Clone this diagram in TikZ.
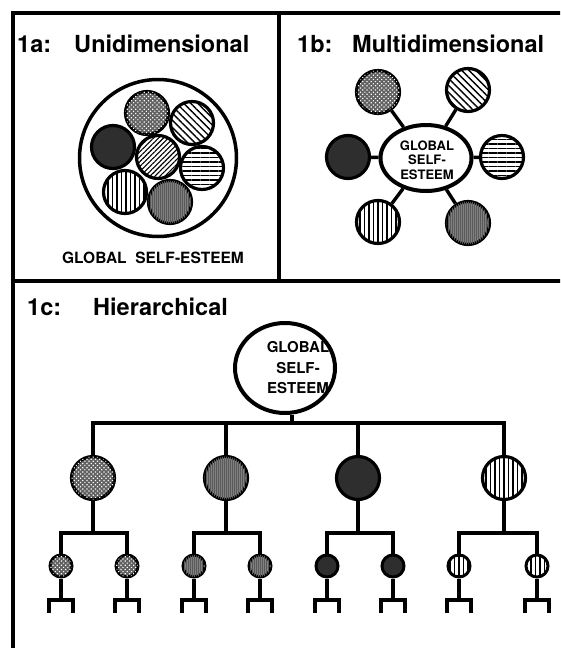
\documentclass[tikz,border=0pt]{standalone}
\usepackage{fontspec}
\setmainfont{TeX Gyre Heros}
\usetikzlibrary{shapes.geometric, patterns.meta}
\tikzset{
  every node/.style={inner sep=0pt},
  frame/.style={line width=4pt},
  link/.style={line width=3.4pt},
  title/.style={font=\fontsize{23.5}{28}\selectfont\bfseries, anchor=base west},
  blob/.style={circle, draw, line width=3.2pt, minimum size=43pt},
  leaf/.style={circle, draw, line width=3pt, minimum size=22pt},
  gse/.style={ellipse, draw, line width=4pt, fill=white},
  gtext/.style 2 args={font=\fontsize{#1}{#2}\selectfont\bfseries, align=center},
  pdots/.style={fill=black!62, postaction={pattern={Dots[distance=3pt, radius=0.85pt, angle=45]}, pattern color=white}},
  pgrey/.style={fill=black!50, postaction={pattern={Lines[angle=90, distance=2pt, line width=0.6pt]}, pattern color=black!65}},
  pdark/.style={fill=black!82},
  pvert/.style={fill=white, postaction={pattern={Lines[angle=90, distance=4.5pt, line width=1.4pt]}}},
  phor/.style={fill=white, postaction={pattern={Lines[angle=0, distance=4.5pt, line width=1.4pt]}}},
  pback/.style={fill=white, postaction={pattern={Lines[angle=-45, distance=5pt, line width=1.4pt]}}},
  pfine/.style={fill=white, postaction={pattern={Lines[angle=45, distance=3.5pt, line width=1.1pt]}}},
}

\begin{document}
\begin{tikzpicture}[x=1pt, y=-1pt]
  \useasboundingbox (0,0) rectangle (560,648);
  \clip (0,0) rectangle (560,648);

  % frame
  \draw[frame] (13,700) |- (600,13);
  \draw[frame] (279,13) -- (279,281);
  \draw[frame] (13,281) -- (600,281);

  % 1a
  \node[title] (ta) at (17,52) {1a:};
  \node[title] (tan) at (74,52) {Unidimensional};
  \node[circle, draw, line width=3.5pt, minimum size=157pt] (o) at (158,158) {};
  \node[blob, pdots] (a1) at (147,113) {};
  \node[blob, pback] (a2) at (192,123) {};
  \node[blob, pdark] (a3) at (113,147) {};
  \node[blob, pfine] (a4) at (158,157) {};
  \node[blob, phor]  (a5) at (202,168) {};
  \node[blob, pvert] (a6) at (125,192) {};
  \node[blob, pgrey] (a7) at (170,202) {};
  \node[gtext={15.5}{18}, anchor=base] (gl) at (153,263) {GLOBAL\ \ SELF-ESTEEM};

  % 1b
  \node[title] (tb) at (297,52) {1b:};
  \node[title] (tbn) at (352,52) {Multidimensional};
  \node[gse, minimum width=91pt, minimum height=66pt] (e) at (426,158) {};
  \node[gtext={13}{14.5}] (et) at (427,160) {GLOBAL\\SELF-\\ESTEEM};
  \node[blob, pdots] (m1) at (378,92) {};
  \node[blob, pback] (m2) at (468,90) {};
  \node[blob, pdark] (m3) at (348,157) {};
  \node[blob, phor]  (m4) at (502,157) {};
  \node[blob, pvert] (m5) at (378,222) {};
  \node[blob, pgrey] (m6) at (468,223) {};
  \foreach \i in {1,...,6}
    \draw[link] (e) -- (m\i);

  % 1c
  \node[title] (tc) at (27,315) {1c:};
  \node[title] (tcn) at (93,315) {Hierarchical};
  \node[gse, minimum width=100pt, minimum height=90pt] (g) at (285,368) {};
  \node[gtext={15}{20.5}] (gt) at (298,368) {GLOBAL\\SELF-\\ESTEEM};
  \coordinate (bar) at (292,423);
  \draw[link] (bar) -- (bar |- g.south);
  \foreach \n/\x/\l/\r/\s in {b1/93/61/127/pdots, b2/226/194/260/pgrey,
                              b3/358/327/393/pdark, b4/504/459/537/pvert} {
    \node[blob, \s] (\n) at (\x,478) {};
    \draw[link] (\n.north) |- (bar);
    \coordinate (j\n) at (\x,533);
    \draw[link] (\n) -- (j\n);
    \foreach \k/\xx in {l/\l, r/\r} {
      \node[leaf, \s] (\n\k) at (\xx,566) {};
      \draw[link] (\n\k.north) |- (j\n);
      \draw[link] (\n\k.south) -- ++(0,21.5) +(-12,13) |- +(12,0) -- +(12,13);
    }
  }
\end{tikzpicture}
\end{document}
